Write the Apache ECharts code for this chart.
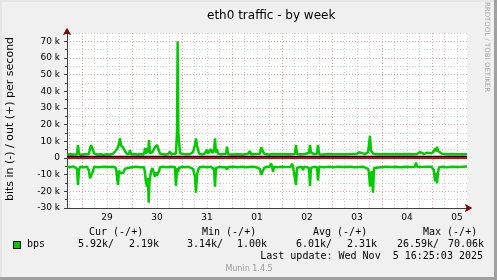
<!DOCTYPE html>
<html><head><meta charset="utf-8">
<script src="https://cdn.jsdelivr.net/npm/echarts@6/dist/echarts.min.js"></script>
<style>html,body{margin:0;padding:0;background:#f0f0f0}#c{width:497px;height:280px}</style>
</head><body><div id="c"></div>
<script>
const chartTitle = 'eth0 traffic - by week';
const yAxisTitle = 'bits in (-) / out (+) per second';
const dayLabels = ['29', '30', '31', '01', '02', '03', '04', '05'];
const yMin = -30, yMax = 75, yMajor = 10, yMinor = 5;
const hoursShown = 192;
// [hours since left edge of plot, kbit/s]
const outData = [[0,2.0],[1.5,2.3],[3,2.1],[4.8,2.2],[5.28,7.8],[5.76,2.3],[7,2.0],[8.5,2.3],[10.5,2.4],[11.04,5.5],[11.5,7.8],[12.0,6.5],[12.48,7.0],[13,2.6],[14.5,2.1],[16,2.3],[17.5,2.0],[19,2.3],[20.5,2.1],[22,2.5],[23.5,4.5],[24.48,6.5],[25,7.5],[25.44,11.8],[25.92,7.5],[26.9,6.5],[27.84,4.0],[28.8,2.4],[29.8,2.6],[30.24,4.8],[30.7,2.2],[32,2.4],[34,2.1],[35.5,2.4],[37,2.3],[37.44,6.0],[37.9,2.6],[38.4,6.0],[38.9,3.0],[39.36,10.8],[39.84,2.8],[41,3.5],[42.24,6.5],[42.7,5.5],[43.2,7.8],[43.7,6.0],[44.16,7.0],[44.64,2.5],[46,2.3],[47,2.1],[48.5,2.4],[49.44,3.8],[49.9,2.3],[51,2.5],[52.3,2.6],[52.8,14.8],[53.1,70.0],[53.46,14.8],[54.24,2.8],[55.2,3.6],[56,2.4],[57.5,2.2],[59,2.4],[60.5,3.5],[61.44,8.0],[61.92,11.8],[62.4,7.5],[62.88,5.0],[63.5,2.5],[65,2.2],[66,2.5],[67.2,5.0],[67.7,2.6],[68.6,3.0],[69.1,5.4],[69.6,3.0],[70.6,4.6],[71.04,11.8],[71.5,3.2],[72,5.2],[72.5,2.5],[74,2.3],[76.3,2.5],[76.8,6.8],[77.3,2.3],[79,2.1],[82,2.3],[84.5,2.1],[86.9,2.5],[87.84,4.2],[88.3,2.2],[90,2.4],[92.6,2.6],[93.2,6.5],[93.6,7.2],[94.1,6.0],[94.6,2.5],[96,2.3],[97,2.1],[99,2.4],[101,2.2],[103,2.4],[105,2.2],[107,2.3],[109.4,2.4],[109.92,7.8],[110.4,2.4],[112,2.2],[114,2.4],[116.16,3.0],[116.64,7.8],[117.1,3.2],[118.5,2.4],[120,2.6],[120.48,7.8],[121,2.3],[123,2.1],[125.5,2.4],[128,2.2],[131,2.3],[134,2.2],[136.5,2.4],[139,2.4],[140.16,3.5],[141,2.8],[143,2.3],[144.5,3.5],[145.44,13.2],[145.9,4.5],[146.4,5.0],[147,2.6],[149.5,2.3],[152,2.4],[155,2.2],[158,2.4],[160,2.2],[163,2.4],[166,2.2],[168,2.4],[169.44,3.5],[170,2.6],[171.5,2.4],[172.8,3.2],[173.3,2.5],[175,2.8],[176.16,4.0],[176.64,5.8],[177.12,4.0],[177.6,6.8],[178.08,4.2],[178.6,3.0],[180,2.6],[182.5,2.3],[185,2.4],[187.5,2.2],[190,2.3],[192,2.2]];
const inData = [[0,-5.2],[1.5,-5.5],[3,-5.0],[4.8,-6.5],[5.28,-16.2],[5.76,-7.0],[6.3,-5.2],[8,-5.5],[9.6,-5.3],[10.5,-7.5],[11.04,-12.2],[11.5,-11.0],[12.0,-12.0],[12.48,-8.0],[13,-5.2],[15,-5.5],[17.5,-5.2],[20,-5.4],[22,-5.2],[23.5,-6.0],[24.48,-16.2],[24.96,-7.5],[25.44,-9.0],[25.92,-10.2],[26.88,-9.0],[27.84,-6.5],[28.8,-5.3],[31,-5.6],[33,-5.3],[35,-5.6],[37,-5.5],[37.44,-9.0],[37.9,-14.5],[38.4,-17.2],[38.88,-12.0],[39.2,-26.8],[39.6,-14.0],[40.32,-8.0],[41,-6.0],[42.24,-11.2],[42.7,-8.5],[43.2,-10.5],[43.7,-11.0],[44.16,-8.0],[44.64,-5.5],[46,-5.3],[48,-5.6],[50,-5.2],[51.8,-5.4],[52.3,-16.8],[52.8,-6.0],[53.28,-8.5],[53.76,-6.0],[55,-5.3],[56.5,-5.6],[58,-5.2],[60.5,-6.5],[61.44,-11.2],[61.92,-20.8],[62.4,-10.5],[62.88,-7.0],[63.8,-5.4],[65.5,-5.2],[67,-5.5],[69,-5.3],[70.56,-6.5],[71.04,-17.2],[71.5,-6.0],[73,-5.3],[74.5,-5.6],[76.32,-5.5],[76.8,-7.0],[77.3,-5.4],[80,-5.2],[82,-5.5],[84,-5.2],[86,-5.5],[88.5,-5.2],[90.5,-5.4],[92.6,-6.5],[93.2,-10.0],[93.6,-11.2],[94.1,-10.5],[94.6,-6.0],[96,-5.2],[97.4,-5.2],[97.92,-3.2],[98.4,-5.2],[98.88,-8.2],[99.4,-5.2],[101,-5.5],[103,-5.2],[105,-5.4],[107.5,-5.2],[108.0,-3.4],[108.5,-5.2],[109.44,-5.5],[109.92,-16.2],[110.4,-5.8],[112.8,-5.3],[113.28,-7.2],[113.8,-5.3],[115,-5.5],[116.16,-6.0],[116.64,-16.8],[117.1,-6.0],[118.5,-5.3],[120,-5.6],[120.48,-13.6],[121,-5.3],[123,-5.5],[126,-5.2],[128,-5.5],[130,-5.2],[133,-5.4],[136,-5.2],[138,-5.5],[140,-5.4],[142,-5.2],[144.5,-6.5],[144.96,-9.0],[145.44,-17.2],[145.9,-9.5],[146.4,-8.0],[146.88,-20.8],[147.36,-6.0],[148,-5.3],[150.5,-5.5],[153,-5.2],[155.5,-5.4],[158,-5.2],[160,-5.5],[162.5,-5.2],[165,-5.4],[167.04,-5.2],[167.52,-2.8],[168,-5.2],[170,-5.4],[172.5,-5.2],[175,-5.3],[176.16,-7.5],[176.64,-14.0],[177.12,-9.0],[177.6,-15.2],[178.08,-8.5],[178.6,-5.5],[180,-5.3],[182,-5.5],[185,-5.2],[188,-5.4],[190,-5.2],[192,-5.1]];
const legendName = 'bps';
const legendHeaders = ['Cur (-/+)', 'Min (-/+)', 'Avg (-/+)', 'Max (-/+)'];
const statsIn = ['5.92k/', '3.14k/', '6.01k/', '26.59k/'];
const statsOut = ['2.19k', '1.00k', '2.31k', '70.06k'];
const lastUpdate = 'Last update: Wed Nov  5 16:25:03 2025';
const footer = 'Munin 1.4.5';
const sideText = 'RRDTOOL / TOBI OETIKER';

const green = '#00cc00';
const minorColor = '#cfcfcf';
const majorColor = '#eba0a0';
const mono = 'DejaVu Sans Mono';
const sans = 'DejaVu Sans';

const plot = {left: 67, top: 33, width: 400, height: 175};
const pxPerHour = plot.width / hoursShown;
const firstMidnightPx = plot.left + 15;
const sixH = 6 * pxPerHour;
const dayPx = 24 * pxPerHour;
const minorStart = firstMidnightPx - sixH;
const nMinor = Math.floor((plot.left + plot.width - minorStart) / sixH);
const pxPerK = plot.height / (yMax - yMin);

const chart = echarts.init(document.getElementById('c'), null, {renderer: 'canvas'});

const headerX = [89, 202, 313, 423];
const inX = [78, 187, 296, 397];
const outX = [129, 237, 347, 448];
const graphics = [];
legendHeaders.forEach((h, i) => graphics.push({type: 'text', left: headerX[i], top: 227, style: {text: h, font: '10px ' + mono, fill: '#000'}}));
statsIn.forEach((s, i) => graphics.push({type: 'text', left: inX[i], top: 239, style: {text: s, font: '10px ' + mono, fill: '#000'}}));
statsOut.forEach((s, i) => graphics.push({type: 'text', left: outX[i], top: 239, style: {text: s, font: '10px ' + mono, fill: '#000'}}));
graphics.push({type: 'rect', shape: {x: 13.5, y: 241.5, width: 7, height: 7}, style: {fill: green, stroke: '#000', lineWidth: 1}});
graphics.push({type: 'text', left: 27, top: 239, style: {text: legendName, font: '10px ' + mono, fill: '#000'}});
graphics.push({type: 'text', right: 14, top: 251, style: {text: lastUpdate, font: '10px ' + mono, fill: '#000'}});
graphics.push({type: 'text', x: 249, y: 269, style: {text: footer, font: '8px ' + sans, fill: '#9a9a9a', align: 'center', verticalAlign: 'middle'}});
graphics.push({type: 'text', x: 487, y: 47, rotation: -Math.PI / 2, style: {text: sideText, font: '7px ' + sans, fill: '#a8a8a8', align: 'center', verticalAlign: 'middle'}});
graphics.push({type: 'text', x: 10, y: 119, rotation: Math.PI / 2, style: {text: yAxisTitle, font: '11px ' + sans, fill: '#000', align: 'center', verticalAlign: 'middle'}});
graphics.push({type: 'rect', shape: {x: 494, y: 0, width: 3, height: 280}, style: {fill: '#a0a0a0'}});
graphics.push({type: 'rect', shape: {x: 0, y: 277, width: 497, height: 3}, style: {fill: '#a0a0a0'}});
graphics.push({type: 'rect', shape: {x: 0, y: 0, width: 494, height: 2}, style: {fill: '#e6e6e6'}});
graphics.push({type: 'rect', shape: {x: 0, y: 0, width: 2, height: 277}, style: {fill: '#e6e6e6'}});

const noAxis = {show: false};
const arrowLine = (color, width) => ({show: true, onZero: false, lineStyle: {color: color, width: width}, symbol: ['none', 'arrow'], symbolSize: [6, 7], symbolOffset: [0, 5]});
const option = {
  animation: false,
  backgroundColor: '#f0f0f0',
  title: {text: chartTitle, left: 202, top: 5, textStyle: {fontFamily: sans, fontSize: 12, fontWeight: 'normal', color: '#000'}},
  graphic: graphics,
  grid: [
    {left: plot.left, top: plot.top, width: plot.width, height: plot.height, show: true, backgroundColor: '#fff', borderWidth: 0},
    {left: minorStart, top: plot.top, width: nMinor * sixH, height: plot.height},
    {left: firstMidnightPx, top: plot.top, width: (dayLabels.length - 1) * dayPx, height: plot.height},
    {left: firstMidnightPx + dayPx / 2, top: plot.top, width: (dayLabels.length - 1) * dayPx, height: plot.height},
    {left: plot.left, top: plot.top + (yMax - 70) * pxPerK, width: plot.width, height: (70 - yMin) * pxPerK}
  ],
  xAxis: [
    {gridIndex: 0, type: 'value', position: 'bottom', min: 0, max: hoursShown, axisLine: arrowLine('#404040', 1), axisTick: noAxis, axisLabel: noAxis, splitLine: noAxis},
    {gridIndex: 1, type: 'value', min: 0, max: nMinor, interval: 1, axisLine: noAxis, axisTick: noAxis, axisLabel: noAxis, splitLine: {show: true, lineStyle: {color: minorColor, type: [1, 2], width: 1}}},
    {gridIndex: 2, type: 'value', min: 0, max: dayLabels.length - 1, interval: 1, axisLine: noAxis, axisTick: noAxis, axisLabel: noAxis, splitLine: {show: true, lineStyle: {color: majorColor, type: [1, 2], width: 1}}},
    {gridIndex: 3, type: 'value', min: 0, max: dayLabels.length - 1, interval: 1, axisLine: noAxis, axisTick: noAxis, splitLine: noAxis,
      axisLabel: {show: true, margin: 5, fontFamily: sans, fontSize: 9, color: '#000', formatter: v => dayLabels[v] || ''}},
    {gridIndex: 4, type: 'value', show: false},
    {gridIndex: 0, type: 'value', position: 'bottom', min: 0, max: hoursShown, axisLine: arrowLine('#8b0000', 0), axisTick: noAxis, axisLabel: noAxis, splitLine: noAxis}
  ],
  yAxis: [
    {gridIndex: 0, type: 'value', position: 'left', min: yMin, max: yMax, interval: yMinor,
      axisLine: arrowLine('#404040', 1),
      axisTick: {show: true, length: 2, lineStyle: {color: '#404040'}}, axisLabel: noAxis,
      splitLine: {show: true, lineStyle: {color: minorColor, type: [1, 2], width: 1}}},
    {gridIndex: 1, type: 'value', show: false},
    {gridIndex: 2, type: 'value', show: false},
    {gridIndex: 3, type: 'value', show: false},
    {gridIndex: 4, type: 'value', min: yMin, max: 70, interval: yMajor,
      axisLine: noAxis, axisTick: {show: true, length: 3, lineStyle: {color: '#404040'}},
      axisLabel: {show: true, margin: 7, fontFamily: sans, fontSize: 9, color: '#000', formatter: v => v === 0 ? '0' : v + ' k'},
      splitLine: {show: true, lineStyle: {color: majorColor, type: [1, 2], width: 1}}},
    {gridIndex: 0, type: 'value', position: 'left', offset: 0, min: yMin, max: yMax, axisLine: arrowLine('#8b0000', 0), axisTick: noAxis, axisLabel: noAxis, splitLine: noAxis}
  ],
  series: [
    {name: 'out', type: 'line', xAxisIndex: 0, yAxisIndex: 0, data: outData, showSymbol: false, symbol: 'none', lineStyle: {color: green, width: 2.5}, z: 3,
      markLine: {silent: true, symbol: 'none', label: {show: false}, data: [{yAxis: 0}], lineStyle: {color: '#e00000', width: 2, type: 'solid', shadowColor: '#000', shadowOffsetY: -1.2, shadowBlur: 0}}},
    {name: 'in', type: 'line', xAxisIndex: 0, yAxisIndex: 0, data: inData, showSymbol: false, symbol: 'none', lineStyle: {color: green, width: 2.5}, z: 3}
  ]
};
chart.setOption(option);
</script></body></html>
